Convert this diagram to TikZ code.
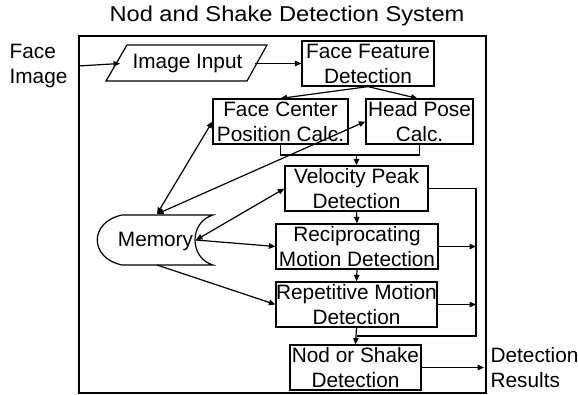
\documentclass[tikz,border=0pt]{standalone}
\usepackage{fontspec}
\setmainfont{Liberation Sans}
\newfontfamily\titlefont{Liberation Sans}[FakeStretch=1.1]
\usetikzlibrary{arrows.meta}
\begin{document}
\begin{tikzpicture}[x=1pt,y=-1pt,line width=1.2pt,
  txt/.style={font=\fontsize{20.8}{25}\selectfont},
  box/.style={txt,draw,minimum height=45pt,inner sep=0pt,align=center},
  lbl/.style={txt,inner sep=0pt,align=left},
  tip/.tip={Triangle[length=6.5pt,width=5.5pt]},
  arr/.style={-tip},
  darr/.style={tip-tip}]
\useasboundingbox (0,0) rectangle (578,394);
% title and frame
\node[font=\titlefont\fontsize{21.5}{25}\selectfont,inner sep=0pt] (title) at (287,16) {Nod and Shake Detection System};
\node[draw,minimum width=407pt,minimum height=357pt,inner sep=0pt] (frame) at (282.5,214.5) {};
% outside labels
\node[lbl,anchor=west] (faceimg) at (9,66) {Face\\Image};
\node[lbl,anchor=west] (res) at (490,368) {Detection\\Results};
% image input parallelogram
\node[txt,inner sep=0pt] (imgin) at (187.5,63) {Image Input};
\draw (106,81) -- (127,45) -- (267,45) -- (247,81) -- cycle;
\coordinate (imgL) at (120,63.5);
\coordinate (imgR) at (255,63.5);
% boxes
\node[box,minimum width=132pt] (ffd) at (368,63.5) {Face Feature\\Detection};
\node[box,minimum width=135pt] (fc) at (280.5,121.5) {Face Center\\Position Calc.};
\node[box,minimum width=107pt] (hp) at (419.5,121.5) {Head Pose\\Calc.};
\node[box,minimum width=143pt] (vel) at (356.5,188.5) {Velocity Peak\\Detection};
\node[box,minimum width=162pt] (rec) at (357,246.5) {Reciprocating\\Motion Detection};
\node[box,minimum width=161pt] (rep) at (356.5,304.5) {Repetitive Motion\\Detection};
\node[box,minimum width=131pt] (nod) at (355.5,367.5) {Nod or Shake\\Detection};
% memory (stored data)
\node[txt,inner sep=0pt] (mem) at (155.5,241.7) {Memory};
\draw (122,215) -- (213,215) .. controls (189,222) and (189,258) .. (213,265)
      -- (122,265) .. controls (89,258) and (89,222) .. (122,215);
\coordinate (memT) at (157,214);
\coordinate (memR) at (196,240);
\coordinate (memB) at (157,265);
% connectors
\draw[arr] ([xshift=10pt]faceimg.east) -- (imgL);
\draw[arr] (imgR) -- (ffd.west);
\draw[arr] (ffd.south) -- (fc.north);
\draw[arr] (ffd.south) -- ([xshift=-2pt]hp.north);
\draw[darr] (memT) -- (fc.west);
\draw[darr] (memT) -- (hp.west);
\draw[darr] (memR) -- (vel.west);
\draw[arr] (memR) -- (rec.west);
\draw[arr] (memB) -- (rep.west);
\coordinate (merge) at (356.5,155);
\draw (fc.south) -- (fc.south |- merge) -- (hp.south |- merge) -- (hp.south);
\draw[arr] (merge) -- (vel.north);
\draw[arr] (vel.south) -- (rec.north);
\draw[arr] (rec.south) -- (rep.north);
\draw[arr] (rep.south) -- (nod.north);
\coordinate (busT) at (476,188.5);
\coordinate (busB) at (476,336);
\draw (vel.east) -- (busT) -- (busB) -- (busB -| rep.south);
\draw[arr] (rec.east) -- (rec.east -| busT);
\draw[arr] (rep.east) -- (rep.east -| busT);
\coordinate (outEnd) at (484,367.5);
\draw[arr] (nod.east) -- (outEnd);
\end{tikzpicture}
\end{document}
